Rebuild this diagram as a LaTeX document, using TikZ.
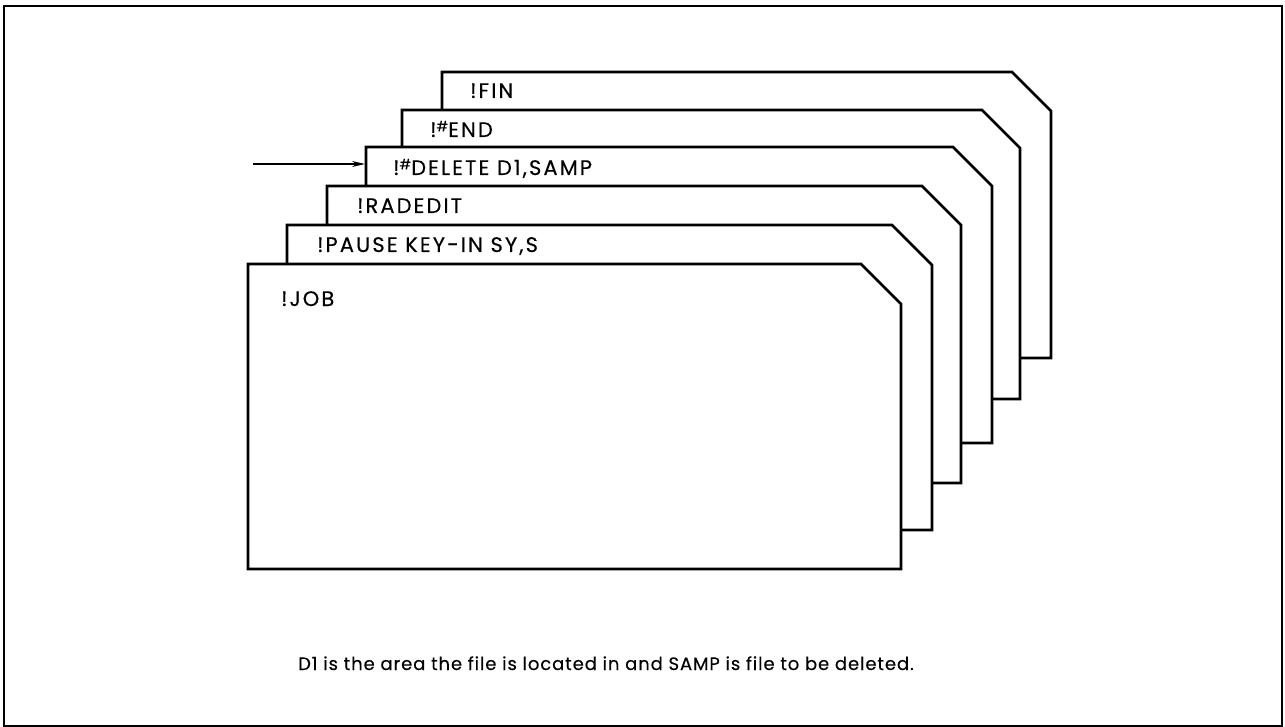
\documentclass[tikz,border=0pt]{standalone}
\usepackage{fontspec}
\setmainfont{Poppins}
\newfontfamily\cardfont[LetterSpace=10, FakeBold=0.3]{Poppins}
\newfontfamily\notefont[LetterSpace=5, FakeBold=0.3]{Poppins}
\usetikzlibrary{arrows.meta}

\begin{document}
\begin{tikzpicture}[
  x=1pt, y=-1pt,
  frame/.style={line width=2.6pt},
  card/.style={draw, fill=white, line width=2.7pt, line join=miter},
  lbl/.style={anchor=base west, inner sep=0pt, font=\cardfont\fontsize{21}{24}\selectfont},
  notetext/.style={anchor=base west, inner sep=0pt, font=\notefont\fontsize{18}{21}\selectfont},
  ar/.style={-{Stealth[length=13pt, width=6pt]}, line width=1.6pt}
]
\useasboundingbox (0,0) rectangle (1285,727);
\draw[frame] (4,6) rectangle (1282,726);
% cards, back to front
\draw[card] (442,358) -- (442,72)  -- (1012,72)  -- (1051,111) -- (1051,358) -- cycle;
\draw[card] (402,399) -- (402,110) -- (982,110)  -- (1020,148) -- (1020,399) -- cycle;
\draw[card] (366,443) -- (366,147) -- (953,147)  -- (992,186)  -- (992,443)  -- cycle;
\draw[card] (327,483) -- (327,186) -- (922,186)  -- (961,225)  -- (961,483)  -- cycle;
\draw[card] (287,530) -- (287,225) -- (892,225)  -- (932,265)  -- (932,530)  -- cycle;
\draw[card] (248,569) -- (248,264) -- (861,264)  -- (901,304)  -- (901,569)  -- cycle;
\node[lbl] (fin)  at (470,98)  {!FIN};
\node[lbl] (end)  at (430,137) {!\raisebox{0.5ex}{\fontsize{14}{14}\selectfont\#}END};
\node[lbl] (del)  at (393,175) {!\raisebox{0.5ex}{\fontsize{14}{14}\selectfont\#}DELETE D1,SAMP};
\node[lbl] (rad)  at (357,213) {!RADEDIT};
\node[lbl] (pau)  at (317,252) {!PAUSE KEY-IN SY,S};
\node[lbl] (job)  at (281,306) {!JOB};
\node[notetext] (note) at (298,670) {D1 is the area the file is located in and SAMP is file to be deleted.};
\coordinate (src) at (253,164);
\coordinate (dl)  at (365,164);
\draw[ar] (src) -- (dl);
\end{tikzpicture}
\end{document}
